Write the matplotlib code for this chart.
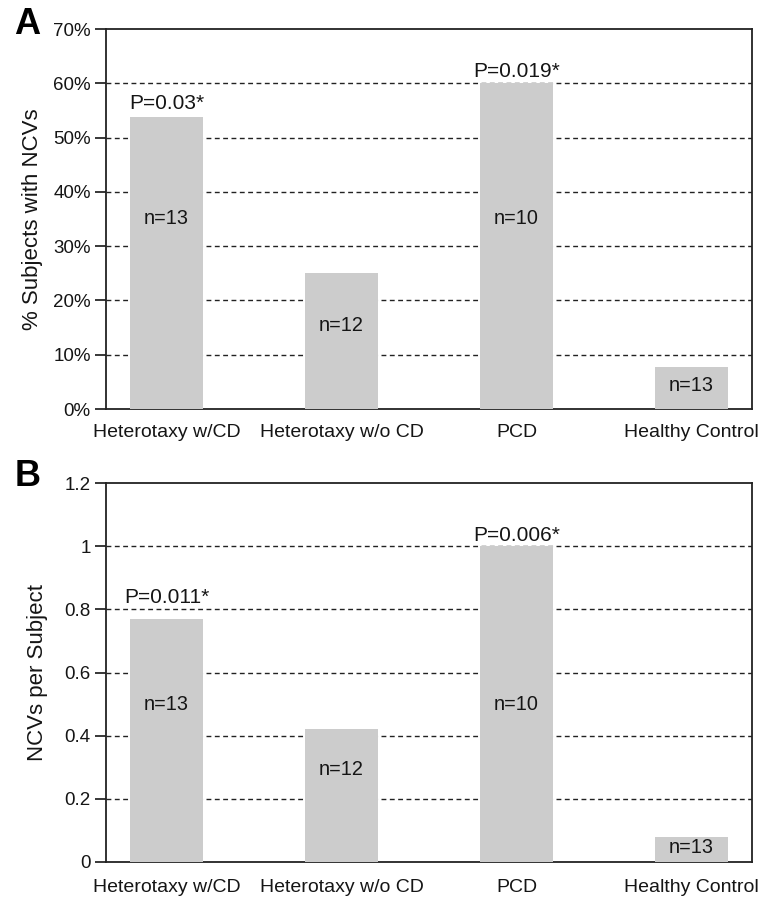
import matplotlib
matplotlib.use("Agg")
import matplotlib.pyplot as plt
from matplotlib.ticker import FuncFormatter

plt.rcParams['font.family'] = ['Liberation Sans', 'DejaVu Sans']

categories = ["Heterotaxy w/CD", "Heterotaxy w/o CD", "PCD", "Healthy Control"]
pct_with_ncv = [53.8, 25.0, 60.0, 7.7]
ncv_per_subject = [0.77, 0.42, 1.0, 0.08]
n_labels = ["n=13", "n=12", "n=10", "n=13"]
p_labels_a = ["P=0.03*", "", "P=0.019*", ""]
p_labels_b = ["P=0.011*", "", "P=0.006*", ""]

# label placements (layout)
n_y_a = [35, 15.3, 35, 4.4]
n_y_b = [0.50, 0.294, 0.50, 0.047]
p_off_a = [2.5, 1.5, 1.5, 0]   # points above bar top
p_off_b = [8.5, 0, 1.0, 0]

W, H = 760, 898
fig = plt.figure(figsize=(W / 100, H / 100), dpi=100)

def ax_px(left, top, right, bottom):
    return fig.add_axes([left / W, 1 - bottom / H, (right - left) / W, (bottom - top) / H])

axA = ax_px(106, 29, 752, 409)
axB = ax_px(106, 483, 752, 862)

FS = 14
bar_color = "#cccccc"
txt = "#151515"
x = list(range(len(categories)))

def style(ax, vals, ymax, step, fmt, n_y, p_labels, p_off, ylabel, lpad, xpad):
    ax.bar(x, vals, width=0.42, color=bar_color, zorder=3)
    ax.set_xlim(-0.345, 3.345)
    ax.set_ylim(0, ymax)
    ticks = [i * step for i in range(int(round(ymax / step)) + 1)]
    ax.set_yticks(ticks)
    ax.yaxis.set_major_formatter(FuncFormatter(fmt))
    for t in ticks[1:-1]:
        ax.axhline(t, color="#222222", lw=1.0, ls=(0, (3.5, 2.5)), zorder=1)
    ax.set_xticks(x)
    ax.set_xticklabels(categories, fontsize=FS, color=txt)
    ax.tick_params(axis="x", length=0, pad=xpad)
    ax.tick_params(axis="y", direction="out", length=8, width=1.2, labelsize=13.5,
                   colors=txt, pad=3)
    for s in ax.spines.values():
        s.set_linewidth(1.3)
        s.set_color("#222222")
    ax.set_ylabel(ylabel, fontsize=16, color=txt, labelpad=lpad)
    for xi, v, ny, nl, pl, po in zip(x, vals, n_y, n_labels, p_labels, p_off):
        ax.text(xi, ny, nl, ha="center", va="center", fontsize=14.3,
                color=txt, zorder=4)
        if pl:
            ax.annotate(pl, (xi, v), xytext=(0, po), textcoords="offset points",
                        ha="center", va="bottom", fontsize=15, color=txt,
                        zorder=4)

style(axA, pct_with_ncv, 70, 10, lambda v, p: f"{int(round(v))}%",
      n_y_a, p_labels_a, p_off_a, "% Subjects with NCVs", 7, 11)
style(axB, ncv_per_subject, 1.2, 0.2,
      lambda v, p: "0" if abs(v) < 1e-9 else ("1" if abs(v - 1) < 1e-9 else f"{v:.1f}"),
      n_y_b, p_labels_b, p_off_b, "NCVs per Subject", 12, 12)

fig.text(14 / W, 1 - 25 / H, "A", fontsize=26, fontweight="bold", va="center", ha="left")
fig.text(15 / W, 1 - 477 / H, "B", fontsize=26, fontweight="bold", va="center", ha="left")

fig.savefig("out.png", dpi=100)
